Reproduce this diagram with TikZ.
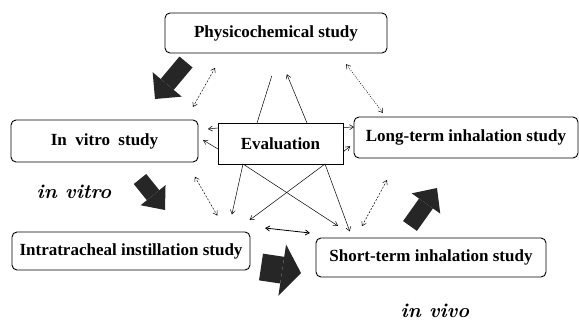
\documentclass[tikz,border=0pt]{standalone}
\usepackage{fontspec}
\newfontfamily\boxfont{Liberation Serif}
\usetikzlibrary{arrows.meta}

\begin{document}
\begin{tikzpicture}[x=1pt, y=-1pt,
		box/.style={draw, line width=0.9pt, rounded corners=5pt, inner sep=0pt, outer sep=0pt,
			font=\boxfont\bfseries\fontsize{17}{20}\selectfont},
		barb/.style={Straight Barb[length=4pt,width=5pt]},
		link/.style={line width=0.5pt, -{Straight Barb[length=4pt,width=5pt]}},
		dbl/.style={line width=0.5pt, {Straight Barb[length=4pt,width=5pt]}-{Straight Barb[length=4pt,width=5pt]}},
		dashdbl/.style={dbl, dash pattern=on 2pt off 1.5pt},
		dotdbl/.style={dbl, dash pattern=on 1pt off 1.3pt},
		flow/.style 2 args={black!85, line width=#1pt, -{Triangle[length=19pt,width=#2pt,line width=0pt]}},
		label/.style={font=\bfseries\itshape\fontsize{20}{24}\selectfont}
	]
		\useasboundingbox (0,0) rectangle (579,320);
		%studies
		\node[box, minimum width=222, minimum height=40] (phys) at (276,33) {Physicochemical study};
		\node[box, minimum width=187, minimum height=42] (vitro) at (104.5,141) {In\ \ vitro\ \ study};
		\node[box, rounded corners=0pt, minimum width=125, minimum height=41] (eval) at (280.5,143.5) {Evaluation};
		\node[box, minimum width=224, minimum height=41] (longt) at (466,137.5) {Long-term inhalation study};
		\node[box, minimum width=238, minimum height=38] (intra) at (131,251) {Intratracheal instillation study};
		\node[box, minimum width=230, minimum height=39] (shortt) at (431,257.5) {Short-term inhalation study};
		\node[label] (lvitro) at (74,192) {in vitro};
		\node[label] (lvivo) at (435,311) {in vivo};
		%flow
		\coordinate (f1s) at (186,62);	\coordinate (f1e) at (155,99);
		\coordinate (f2s) at (140,179);	\coordinate (f2e) at (165,210);
		\coordinate (f3s) at (261,267);	\coordinate (f3e) at (301,273);
		\coordinate (f4s) at (410,226);	\coordinate (f4e) at (437,188);
		\foreach \n/\w/\h in {1/17/38, 2/16/32, 3/27/52, 4/17/35}
			\draw[flow={\w}{\h}] (f\n s) -- (f\n e);
		%dashed links
		\draw[dashdbl, shorten <=17pt, shorten >=15pt] ([xshift=-52.5pt]phys.south) -- ([xshift=81pt]vitro.north);
		\draw[dotdbl, shorten <=14pt, shorten >=5pt] ([xshift=61.7pt]phys.south) -- ([xshift=-80pt]longt.north);
		\draw[dashdbl, shorten <=17pt, shorten >=19pt] ([xshift=81.8pt]vitro.south) -- ([xshift=95.8pt]intra.north);
		\draw[dashdbl, shorten <=25pt, shorten >=13.5pt] ([xshift=-67pt]longt.south) -- ([xshift=-75.5pt]shortt.north);
		\draw[dbl, line width=0.8pt] ([xshift=15pt,yshift=23pt]intra.east) -- ([xshift=-6pt,yshift=24.5pt]shortt.west);
		%evaluation
		\draw[line width=0.5pt, shorten >=24pt] ([xshift=-23.5pt]eval.north) -- ([xshift=3pt]phys.south);
		\draw[link, shorten >=23pt] ([xshift=26.5pt]eval.north) -- ([xshift=2pt]phys.south);
		\draw[link, shorten >=10pt] ([yshift=15.5pt]eval.west) -- ([yshift=11pt]vitro.east);
		\draw[link, shorten >=6pt] ([yshift=-5.5pt]eval.west) -- ([yshift=4pt]vitro.east);
		\draw[link] ([yshift=16pt]eval.east) -- ([yshift=10.5pt]longt.west);
		\draw[link, shorten >=5pt] ([yshift=-8.5pt]eval.east) -- ([yshift=-5.5pt]longt.west);
		\draw[link, shorten >=18pt] ([xshift=-37.5pt]eval.south) -- ([xshift=97pt]intra.north);
		\draw[link, shorten >=20pt] ([xshift=44.5pt]eval.south) -- ([xshift=102.6pt]intra.north);
		\draw[link, shorten >=22pt] ([xshift=-37.5pt]eval.south) -- ([xshift=-74.6pt]shortt.north);
		\draw[link, shorten >=7pt] ([xshift=44.5pt]eval.south) -- ([xshift=-78.8pt]shortt.north);
\end{tikzpicture}
\end{document}
